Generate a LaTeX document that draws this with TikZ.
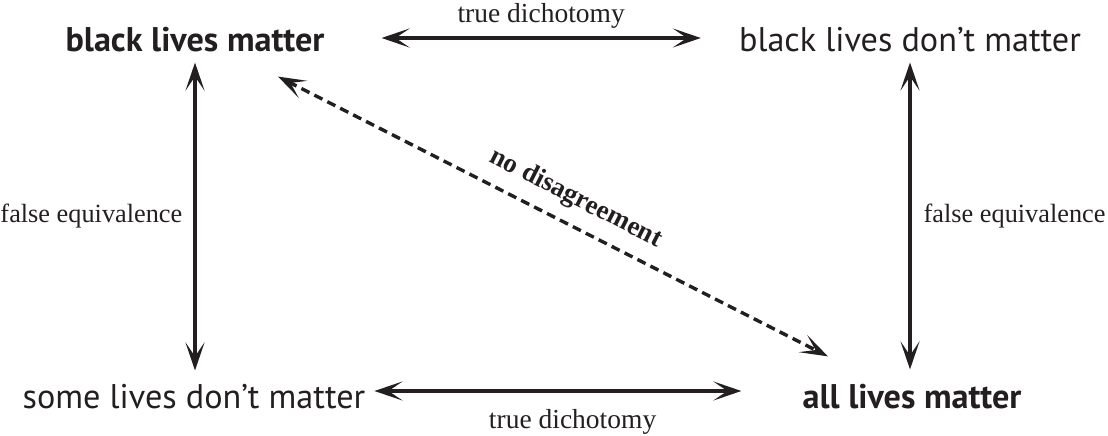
\documentclass[tikz,border=0pt]{standalone}
\usepackage{fontspec}
\setmainfont{Liberation Serif}
\setsansfont{PT Sans}
\usepackage{xcolor}
\usetikzlibrary{arrows.meta,positioning}
\definecolor{inkc}{HTML}{231F20}
\tikzset{
  >={Stealth[length=28pt,width=19pt,inset=14pt]},
  dual/.style={<->,line width=3.4pt,draw=inkc},
  dashdual/.style={dual,dash pattern=on 9pt off 5.5pt},
  claim/.style={font=\sffamily\fontsize{34.2}{40}\selectfont,text=inkc,inner sep=0pt},
  boldclaim/.style={claim,font=\sffamily\bfseries\fontsize{34.2}{40}\selectfont},
  lbl/.style={font=\fontsize{27.5}{31}\selectfont,text=inkc,inner sep=0pt}
}
\begin{document}
\begin{tikzpicture}[x=1pt,y=1pt]
\useasboundingbox (0,0) rectangle (1108,436);
% the four claims
\node[boldclaim] (blm) at (195,396) {black lives matter};
\node[claim] (bldm) at (910,396) {black lives don’t matter};
\node[claim] (sldm) at (194,39) {some lives don’t matter};
\node[boldclaim] (alm) at (912,39) {all lives matter};
% arrow ends next to the claims
\coordinate (tl) at ([xshift=57pt,yshift=2pt]blm.east);
\coordinate (tr) at ([xshift=-38pt,yshift=2pt]bldm.west);
\coordinate (bl) at ([xshift=9pt,yshift=6pt]sldm.east);
\coordinate (br) at ([xshift=-61pt,yshift=6pt]alm.west);
\coordinate (lt) at ([yshift=-10pt]blm.south);
\coordinate (lb) at ([xshift=1pt,yshift=14pt]sldm.north);
\coordinate (rt) at ([yshift=-10pt]bldm.south);
\coordinate (rb) at ([xshift=-2pt,yshift=15pt]alm.north);
% connectors
\draw[dual] (tl) -- (tr) node[lbl,midway,above=8pt] {true dichotomy};
\draw[dual] (bl) -- (br) node[lbl,pos=0.54,below=17pt] {true dichotomy};
\draw[dual] (lt) -- (lb) node[lbl,font=\fontsize{26.3}{31}\selectfont,midway,left=11pt] {false equivalence};
\draw[dual] (rt) -- (rb) node[lbl,font=\fontsize{26.3}{31}\selectfont,midway,right=12pt] {false equivalence};
\draw[dashdual] ([shift={(83pt,-24pt)}]blm.south) -- ([shift={(-84pt,28pt)}]alm.north)
  node[lbl,font=\bfseries\fontsize{27}{31}\selectfont,pos=0.52,sloped,above=12pt] {no disagreement};
\end{tikzpicture}
\end{document}
